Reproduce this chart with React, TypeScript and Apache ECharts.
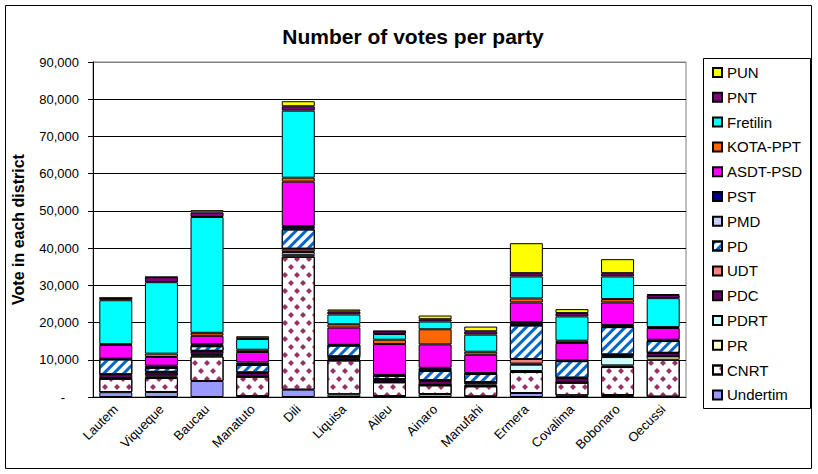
import { useEffect, useRef } from 'react';
import * as echarts from 'echarts';

const districts = [
  'Lautem', 'Viqueque', 'Baucau', 'Manatuto', 'Dili', 'Liquisa', 'Aileu',
  'Ainaro', 'Manufahi', 'Ermera', 'Covalima', 'Bobonaro', 'Oecussi',
];

// stacked from the bottom up
const undertim = [1300, 1350, 4300, 200, 1970, 720, 200, 810, 150, 1070, 450, 540, 100];
const cnrt = [3600, 3750, 6600, 5250, 35700, 9100, 3760, 2330, 2730, 5640, 3390, 7510, 9920];
const pr = [100, 400, 300, 50, 530, 250, 100, 100, 100, 270, 100, 450, 890];
const pdrt = [100, 300, 400, 50, 720, 200, 100, 0, 380, 1700, 0, 2230, 0];
const pdc = [900, 800, 700, 900, 180, 540, 520, 1160, 600, 300, 1150, 540, 900];
const udt = [100, 150, 100, 150, 720, 100, 100, 100, 50, 1220, 100, 150, 50];
const pd = [4000, 1050, 1250, 2000, 5200, 2900, 890, 2510, 2160, 9030, 4450, 7360, 3170];
const pmd = [100, 100, 100, 100, 200, 60, 50, 100, 50, 100, 100, 200, 100];
const pst = [100, 500, 450, 600, 700, 150, 200, 730, 200, 800, 100, 340, 250];
const asdt = [3700, 2350, 2250, 2800, 11930, 4630, 8300, 6300, 4930, 5270, 4650, 6080, 3140];
const kota = [200, 900, 800, 600, 1070, 900, 1180, 4060, 810, 1080, 630, 900, 260];
const fretilin = [11800, 19200, 31100, 2870, 18020, 2610, 1530, 2070, 4600, 5900, 6530, 6080, 7780];
const pnt = [600, 1350, 1250, 200, 1170, 810, 720, 630, 900, 890, 890, 890, 810];
const pun = [50, 50, 600, 550, 1350, 540, 100, 990, 1260, 8050, 1070, 3760, 270];

const yTicks = [0, 10000, 20000, 30000, 40000, 50000, 60000, 70000, 80000, 90000];

const font = 'Arial, "Liberation Sans", sans-serif';

const parties = [
  { name: 'Undertim', data: undertim, color: '#9999ff' },
  {
    name: 'CNRT', data: cnrt, color: '#ffffff',
    decal: {
      symbol: 'diamond', symbolSize: 1, color: '#993366',
      dashArrayX: [[5.5, 5.5], [0, 5.5, 5.5, 0]], dashArrayY: [5.5, 1.2], rotation: 0,
    },
  },
  { name: 'PR', data: pr, color: '#ffffcc' },
  { name: 'PDRT', data: pdrt, color: '#ccffff' },
  { name: 'PDC', data: pdc, color: '#660066' },
  { name: 'UDT', data: udt, color: '#ff8080' },
  {
    name: 'PD', data: pd, color: '#ffffff',
    decal: {
      symbol: 'rect', symbolSize: 1, color: '#0066cc',
      dashArrayX: [1, 0], dashArrayY: [2.5, 3.5], rotation: -Math.PI / 4,
    },
  },
  { name: 'PMD', data: pmd, color: '#ccccff' },
  { name: 'PST', data: pst, color: '#000080' },
  { name: 'ASDT-PSD', data: asdt, color: '#ff00ff' },
  { name: 'KOTA-PPT', data: kota, color: '#ff6600' },
  { name: 'Fretilin', data: fretilin, color: '#00ffff' },
  { name: 'PNT', data: pnt, color: '#800080' },
  { name: 'PUN', data: pun, color: '#ffff00' },
];

export default function App() {
  const chartRef = useRef<HTMLDivElement>(null);
  useEffect(() => {
    document.body.style.margin = '0';
    if (!chartRef.current) return;
    const chart = echarts.init(chartRef.current, undefined, { renderer: 'svg' });
    chart.setOption({
      animation: false,
      backgroundColor: '#ffffff',
      textStyle: { fontFamily: font },
      title: {
        text: 'Number of votes per party',
        left: 408,
        textAlign: 'center',
        top: 21,
        textStyle: { fontSize: 21, fontWeight: 'bold', color: '#000', fontFamily: font },
      },
      grid: {
        left: 93, top: 62, right: 132, bottom: 77,
        show: true, borderColor: '#808080', borderWidth: 1,
      },
      legend: {
        orient: 'vertical',
        left: 712,
        top: 65,
        padding: 0,
        itemWidth: 9,
        itemHeight: 9,
        itemGap: 9.8,
        icon: 'rect',
        selectedMode: false,
        data: parties.map((p) => p.name).reverse(),
        textStyle: { fontSize: 15, color: '#000', fontFamily: font, padding: [0, 0, 0, 0] },
      },
      graphic: [
        {
          type: 'rect',
          shape: { x: 5.5, y: 5.5, width: 806, height: 463 },
          style: { fill: 'none', stroke: '#000', lineWidth: 1 },
          silent: true,
        },
        {
          type: 'rect',
          shape: { x: 703.5, y: 58.5, width: 107, height: 350 },
          style: { fill: 'none', stroke: '#000', lineWidth: 1 },
          silent: true,
        },
      ],
      xAxis: {
        type: 'category',
        data: districts,
        axisLine: { lineStyle: { color: '#000', width: 1 } },
        axisTick: { length: 5, lineStyle: { color: '#000' } },
        axisLabel: { rotate: 45, fontSize: 13, color: '#000', margin: 10, interval: 0, fontFamily: font },
      },
      yAxis: {
        type: 'value',
        min: yTicks[0],
        max: yTicks[yTicks.length - 1],
        interval: yTicks[1] - yTicks[0],
        name: 'Vote in each district',
        nameLocation: 'middle',
        nameGap: 67,
        nameTextStyle: { fontSize: 16, fontWeight: 'bold', color: '#000', fontFamily: font },
        axisLine: { show: true, lineStyle: { color: '#000', width: 1 } },
        axisTick: { show: true, length: 5, lineStyle: { color: '#000' } },
        axisLabel: {
          fontSize: 13,
          color: '#000',
          margin: 14,
          fontFamily: font,
          formatter: (v: number) => (v === 0 ? '{dash|-}' : v.toLocaleString('en-US')),
          rich: { dash: { padding: [0, 14, 0, 0], fontSize: 13, color: '#000' } },
        },
        splitLine: {
          show: true,
          lineStyle: {
            color: yTicks.map((_, i) => (i === yTicks.length - 1 ? '#808080' : '#000')),
            width: 1,
          },
        },
      },
      series: parties.map((p) => ({
        name: p.name,
        type: 'bar',
        stack: 'total',
        barWidth: 33,
        data: p.data,
        itemStyle: {
          color: p.color,
          borderColor: '#000',
          borderWidth: 1,
          ...(p.decal ? { decal: p.decal } : {}),
        },
        emphasis: { disabled: true },
      })),
    });
    return () => {
      chart.dispose();
    };
  }, []);
  return <div ref={chartRef} style={{ width: 818, height: 474 }} />;
}
